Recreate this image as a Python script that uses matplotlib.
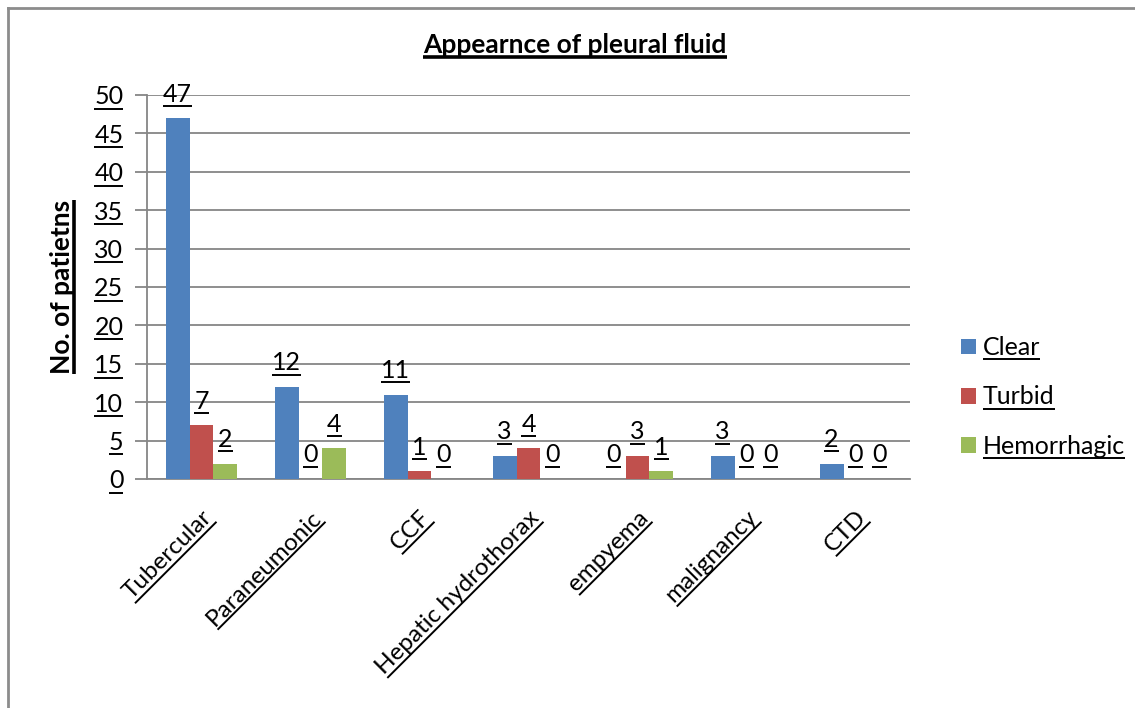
import numpy as np
import matplotlib
matplotlib.use("Agg")
import matplotlib.pyplot as plt
from matplotlib.patches import Patch
from matplotlib.lines import Line2D

categories = ["Tubercular", "Paraneumonic", "CCF", "Hepatic hydrothorax",
              "empyema", "malignancy", "CTD"]
clear = [47, 12, 11, 3, 0, 3, 2]
turbid = [7, 0, 1, 4, 3, 0, 0]
hemorrhagic = [2, 4, 0, 0, 1, 0, 0]
series_names = ["Clear", "Turbid", "Hemorrhagic"]
y_ticks = [0, 5, 10, 15, 20, 25, 30, 35, 40, 45, 50]

colors = ["#4F81BD", "#C0504D", "#9BBB59"]
FONT = "Lato"
FS = 18

plt.rcParams['font.family'] = [FONT, 'DejaVu Sans']

fig = plt.figure(figsize=(11.35, 7.08), dpi=100)
ax = fig.add_axes([147 / 1135, 1 - 479 / 708, (910 - 147) / 1135, (479 - 95) / 708])

x = np.arange(len(categories))
w = 0.22
data_labels = []
for k, vals in enumerate([clear, turbid, hemorrhagic]):
    pos = x + (k - 1) * w
    ax.bar(pos, vals, width=w, color=colors[k], zorder=3)
    for px, v in zip(pos, vals):
        t = ax.annotate(str(v), (px, v), xytext=(0, 9), textcoords="offset points",
                        ha="center", va="bottom", fontsize=FS, color="black")
        data_labels.append(t)

ax.set_xlim(-0.5, len(categories) - 0.5)
ax.set_ylim(0, 50)
ax.set_yticks(y_ticks)
ax.set_yticklabels([str(v) for v in y_ticks], fontsize=FS)
ax.set_xticks(x)
ax.set_xticklabels(categories, fontsize=17.5, rotation=45, ha="right",
                   rotation_mode="anchor")
ax.tick_params(axis="x", length=0, pad=20)
ax.tick_params(axis="y", length=9, width=1.3, color="#868686", pad=8)
ax.grid(axis="y", color="#868686", linewidth=1.3, zorder=0)
ax.set_axisbelow(True)
for s in ["top", "right"]:
    ax.spines[s].set_visible(False)
for s in ["left", "bottom"]:
    ax.spines[s].set_color("#868686")
    ax.spines[s].set_linewidth(1.3)

ylab = fig.text(62 / 1135, 1 - 287 / 708, "No. of patietns", rotation=90,
                ha="center", va="center", fontsize=19, fontweight="bold")
title = fig.text(575 / 1135, 1 - 45 / 708, "Appearnce of pleural fluid",
                 ha="center", va="center", fontsize=19, fontweight="bold")

handles = [Patch(facecolor=c, edgecolor="none") for c in colors]
leg = fig.legend(handles, series_names, loc="center left",
                 bbox_to_anchor=(948 / 1135, 1 - 397 / 708), frameon=False,
                 fontsize=FS, handlelength=0.6, handleheight=0.6,
                 handletextpad=0.3, labelspacing=1.05, borderpad=0)

# outer chart border (only top and left edges show)
fig.add_artist(Line2D([8 / 1135, 8 / 1135], [0, 1 - 8 / 708], transform=fig.transFigure,
                      color="#8C8C8C", linewidth=2))
fig.add_artist(Line2D([8 / 1135, 1], [1 - 8 / 708, 1 - 8 / 708], transform=fig.transFigure,
                      color="#8C8C8C", linewidth=2))


def underline(texts, lw=1.4, frac=-0.01):
    fig.canvas.draw()
    r = fig.canvas.get_renderer()
    inv = fig.transFigure.inverted()
    for t in texts:
        if not t.get_text():
            continue
        rot = t.get_rotation()
        bb = t.get_window_extent(r)
        cx, cy = (bb.x0 + bb.x1) / 2, (bb.y0 + bb.y1) / 2
        t.set_rotation(0)
        b0 = t.get_window_extent(r)
        t.set_rotation(rot)
        tw, th = b0.width, b0.height
        a = np.deg2rad(rot)
        rm = np.array([[np.cos(a), -np.sin(a)], [np.sin(a), np.cos(a)]])
        local = np.array([[-tw / 2, -th / 2 + frac * th], [tw / 2, -th / 2 + frac * th]])
        pts = local @ rm.T + np.array([cx, cy])
        fpts = inv.transform(pts)
        fig.add_artist(Line2D(fpts[:, 0], fpts[:, 1], transform=fig.transFigure,
                              color="black", linewidth=lw, solid_capstyle="butt"))


underline(list(ax.get_xticklabels()) + list(ax.get_yticklabels()) + data_labels
          + list(leg.get_texts()))
underline([ylab, title], lw=2.6)

fig.savefig("out.png", dpi=100)
